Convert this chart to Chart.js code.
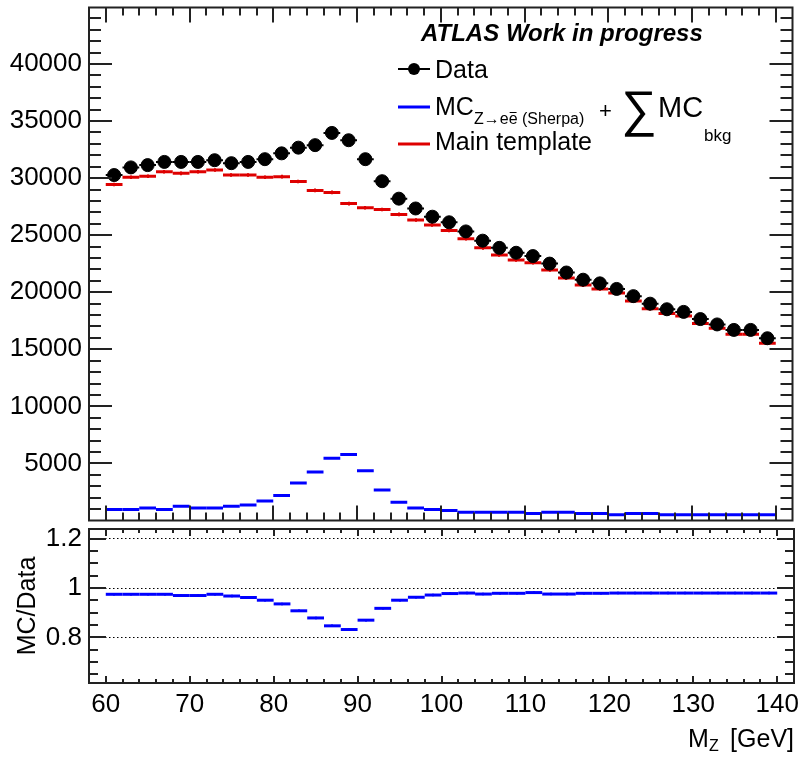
<!DOCTYPE html>
<html>
<head>
<meta charset="utf-8">
<script src="https://cdn.jsdelivr.net/npm/chart.js@4.4.1/dist/chart.umd.min.js"></script>
<style>
  body { margin: 0; background: #fff; }
  #wrap { position: relative; width: 800px; height: 757px; }
  #mainPad { position: absolute; left: 0; top: 0; }
  #ratioPad { position: absolute; left: 0; top: 528px; }
</style>
</head>
<body>
<div id="wrap">
  <canvas id="mainPad" width="800" height="528"></canvas>
  <canvas id="ratioPad" width="800" height="229"></canvas>
</div>
<script>
// M_Z bins, 2 GeV wide
const binCenters = [61, 63, 65, 67, 69, 71, 73, 75, 77, 79,
                    81, 83, 85, 87, 89, 91, 93, 95, 97, 99,
                    101, 103, 105, 107, 109, 111, 113, 115, 117, 119,
                    121, 123, 125, 127, 129, 131, 133, 135, 137, 139];
const binWidth = 2;

const dataCounts = [30270, 30940, 31140, 31420, 31420, 31420, 31570, 31310, 31420, 31660,
                    32170, 32670, 32890, 33960, 33320, 31660, 29730, 28200, 27340, 26620,
                    26130, 25330, 24520, 23890, 23460, 23170, 22510, 21730, 21100, 20780,
                    20290, 19660, 19000, 18510, 18280, 17650, 17180, 16700, 16700, 15970];

const templateCounts = [29440, 30080, 30160, 30560, 30420, 30560, 30710, 30270, 30270, 30080,
                        30130, 29700, 28920, 28750, 27770, 27400, 27250, 26820, 26330, 25900,
                        25420, 24690, 23890, 23260, 22830, 22590, 21960, 21240, 20630, 20290,
                        19940, 19230, 18560, 18130, 17910, 17270, 16840, 16320, 16320, 15540];

const mcCounts = [960, 960, 1100, 960, 1250, 1100, 1100, 1250, 1360, 1710,
                  2200, 3290, 4240, 5450, 5790, 4360, 2680, 1600, 1100, 960,
                  870, 730, 730, 730, 730, 610, 730, 730, 610, 610,
                  500, 610, 610, 500, 500, 500, 500, 500, 500, 500];

const ratioValues = [0.975, 0.975, 0.975, 0.975, 0.970, 0.970, 0.975, 0.968, 0.962, 0.951,
                     0.936, 0.908, 0.879, 0.847, 0.832, 0.870, 0.918, 0.951, 0.963, 0.972,
                     0.978, 0.980, 0.976, 0.979, 0.979, 0.982, 0.976, 0.976, 0.979, 0.979,
                     0.980, 0.980, 0.980, 0.980, 0.980, 0.980, 0.980, 0.980, 0.980, 0.980];

const templateErr = 160;
const ratioErr = 0.005;

// labelled ticks
const massTicks = [60, 70, 80, 90, 100, 110, 120, 130, 140];
const countTicks = [5000, 10000, 15000, 20000, 25000, 30000, 35000, 40000];
const ratioTicks = [0.8, 1, 1.2];

const RED = 'rgb(222,0,0)';
const BLUE = 'rgb(0,0,255)';
const FONT = "'Liberation Sans', Arial, Helvetica, sans-serif";

Chart.defaults.font.family = FONT;
Chart.defaults.color = '#000';

const pts = vals => binCenters.map((c, i) => ({ x: c, y: vals[i] }));
const fixedTicks = list => s => { s.ticks = list.map(v => ({ value: v })); };

// half a bin in pixels, so 'line' points cover the whole bin
function halfBin(ctx) {
  const x = ctx.chart.scales.x;
  return Math.abs(x.getPixelForValue(binWidth) - x.getPixelForValue(0)) / 2;
}

function binSegments(label, vals, color, width) {
  return {
    label: label,
    data: pts(vals),
    showLine: false,
    pointStyle: 'line',
    pointRadius: halfBin,
    pointBorderColor: color,
    pointBorderWidth: width,
    pointBackgroundColor: color
  };
}

function line(ctx, x1, y1, x2, y2) {
  ctx.beginPath();
  ctx.moveTo(x1, y1);
  ctx.lineTo(x2, y2);
  ctx.stroke();
}

// box around the pad with ROOT-style inward ticks on all four sides
function drawFrame(chart, t) {
  const { ctx, chartArea: a, scales: { x, y } } = chart;
  ctx.save();
  ctx.strokeStyle = '#222';
  ctx.lineWidth = 2;
  for (let v = 60; v <= 140; v += 2) {
    const px = Math.round(x.getPixelForValue(v));
    const len = v % 10 === 0 ? t.xMajor : t.xMinor;
    line(ctx, px, a.bottom, px, a.bottom - len);
    line(ctx, px, a.top, px, a.top + len);
  }
  for (let k = t.yFrom; k <= t.yTo; k++) {
    const py = Math.round(y.getPixelForValue(k * t.yStep));
    const len = k % t.yEvery === 0 ? t.yMajor : t.yMinor;
    line(ctx, a.left, py, a.left + len, py);
    line(ctx, a.right, py, a.right - len, py);
  }
  ctx.strokeRect(a.left, a.top, a.right - a.left, a.bottom - a.top);
  ctx.restore();
}

function drawErrors(chart, vals, err, color) {
  const { ctx, scales: { x, y } } = chart;
  ctx.save();
  ctx.strokeStyle = color;
  ctx.lineWidth = 2;
  binCenters.forEach((c, i) => {
    const px = Math.round(x.getPixelForValue(c));
    line(ctx, px, y.getPixelForValue(vals[i] - err), px, y.getPixelForValue(vals[i] + err));
  });
  ctx.restore();
}

const mainDecor = {
  id: 'mainDecor',
  beforeDatasetsDraw(chart) {
    drawErrors(chart, templateCounts, templateErr, RED);
  },
  afterDraw(chart) {
    drawFrame(chart, { xMajor: 15, xMinor: 8, yFrom: 1, yTo: 44, yStep: 1000, yEvery: 5, yMajor: 23, yMinor: 12 });
    const ctx = chart.ctx;
    ctx.save();
    ctx.fillStyle = '#000';
    ctx.textBaseline = 'alphabetic';

    ctx.font = 'italic bold 24px ' + FONT;
    ctx.fillText('ATLAS Work in progress', 421, 41);

    // Data entry
    ctx.strokeStyle = '#000';
    ctx.lineWidth = 2;
    line(ctx, 398, 69, 430, 69);
    ctx.beginPath();
    ctx.arc(414, 69, 6, 0, Math.PI * 2);
    ctx.fill();
    ctx.font = '25px ' + FONT;
    ctx.fillText('Data', 435, 78);

    // MC entry
    ctx.strokeStyle = BLUE;
    ctx.lineWidth = 3;
    line(ctx, 398, 107, 430, 107);
    ctx.font = '25px ' + FONT;
    ctx.fillText('MC', 435, 115);
    ctx.font = '16px ' + FONT;
    ctx.fillText('Z\u2192ee (Sherpa)', 474, 124);
    const pre = ctx.measureText('Z\u2192e').width;
    const ew = ctx.measureText('e').width;
    ctx.strokeStyle = '#000';
    ctx.lineWidth = 1;
    line(ctx, 474 + pre + 1, 112.5, 474 + pre + ew - 1, 112.5);
    ctx.font = '22px ' + FONT;
    ctx.fillText('+', 599, 118);
    ctx.font = '50px ' + FONT;
    ctx.fillText('\u2211', 621, 126);
    ctx.font = '29px ' + FONT;
    ctx.fillText('MC', 658, 117);
    ctx.font = '17px ' + FONT;
    ctx.fillText('bkg', 704, 141);

    // template entry
    ctx.strokeStyle = RED;
    ctx.lineWidth = 3;
    line(ctx, 398, 144, 430, 144);
    ctx.font = '25px ' + FONT;
    ctx.fillText('Main template', 435, 150);
    ctx.restore();
  }
};

const ratioDecor = {
  id: 'ratioDecor',
  beforeDatasetsDraw(chart) {
    drawErrors(chart, ratioValues, ratioErr, BLUE);
  },
  afterDraw(chart) {
    drawFrame(chart, { xMajor: 7, xMinor: 4, yFrom: 13, yTo: 24, yStep: 0.05, yEvery: 4, yMajor: 17, yMinor: 9 });
    const ctx = chart.ctx;
    ctx.save();
    ctx.fillStyle = '#000';
    ctx.textBaseline = 'alphabetic';
    ctx.font = '25px ' + FONT;
    ctx.textAlign = 'right';
    ctx.fillText('[GeV]', 794, 219);
    ctx.textAlign = 'left';
    ctx.fillText('M', 688, 219);
    ctx.font = '16px ' + FONT;
    ctx.fillText('Z', 709, 223);
    ctx.restore();
  }
};

// keep the plot frame where it is, whatever the labels need
function pinScale(s, w, h) {
  if (w !== null) s.width = w;
  if (h !== null) s.height = h;
  s.paddingTop = 0;
  s.paddingBottom = 0;
  s.paddingLeft = 0;
  s.paddingRight = 0;
}

const xScale = (showLabels, h) => ({
  type: 'linear',
  min: 58,
  max: 142,
  grid: { display: false, drawTicks: false },
  border: { display: false },
  afterBuildTicks: fixedTicks(massTicks),
  ticks: { display: showLabels, padding: 6, font: { size: 26 }, maxRotation: 0,
           callback: v => String(v) },
  afterFit: s => pinScale(s, null, h)
});

new Chart(document.getElementById('mainPad'), {
  type: 'scatter',
  data: {
    datasets: [
      { label: 'Data', data: pts(dataCounts), pointStyle: 'circle', pointRadius: 6.5,
        pointBackgroundColor: '#000', pointBorderColor: '#000', pointBorderWidth: 1 },
      binSegments('Data x', dataCounts, '#000', 2),
      binSegments('Main template', templateCounts, RED, 3),
      binSegments('MC', mcCounts, BLUE, 3)
    ]
  },
  options: {
    responsive: false,
    animation: false,
    events: [],
    layout: { padding: { top: 7, right: 6, bottom: 2, left: 0 } },
    plugins: { legend: { display: false }, tooltip: { enabled: false } },
    scales: {
      x: xScale(false, 0),
      y: {
        min: 0,
        max: 44950,
        grid: { display: false, drawTicks: false },
        border: { display: false },
        afterBuildTicks: fixedTicks(countTicks),
        ticks: { padding: 7, font: { size: 26 }, callback: v => String(v) },
        afterFit: s => pinScale(s, 89, null)
      }
    }
  },
  plugins: [mainDecor]
});

new Chart(document.getElementById('ratioPad'), {
  type: 'scatter',
  data: {
    datasets: [binSegments('MC/Data', ratioValues, BLUE, 3)]
  },
  options: {
    responsive: false,
    animation: false,
    events: [],
    layout: { padding: { top: 1, right: 6, bottom: 0, left: 0 } },
    plugins: { legend: { display: false }, tooltip: { enabled: false } },
    scales: {
      x: xScale(true, 74),
      y: {
        min: 0.615,
        max: 1.24,
        grid: { display: true, drawTicks: false, color: '#000', lineWidth: 1 },
        border: { display: false, dash: [1.5, 2.5] },
        afterBuildTicks: fixedTicks(ratioTicks),
        ticks: { padding: 7, font: { size: 26 }, callback: v => String(v) },
        title: { display: true, text: 'MC/Data', font: { size: 25 }, padding: { top: 13, bottom: 0 } },
        afterFit: s => pinScale(s, 89, null)
      }
    }
  },
  plugins: [ratioDecor]
});
</script>
</body>
</html>
